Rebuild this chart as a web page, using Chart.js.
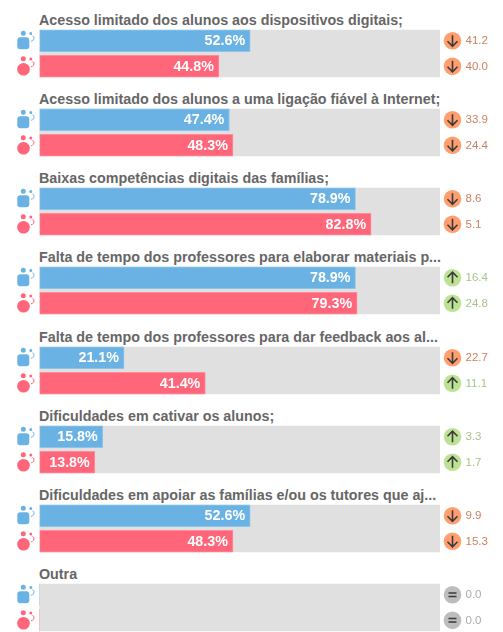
<!DOCTYPE html>
<html lang="pt">

<head>
    <meta charset="UTF-8">
    <title>Dificuldades</title>
    <script src="https://cdn.jsdelivr.net/npm/chart.js"></script>
    <style>
        html, body { margin: 0; background: #fff; }
        #wrap { position: relative; width: 503px; height: 632px; overflow: hidden; }
        .title { position: absolute; left: 39px; font: bold 14.3px "Liberation Sans", Arial, sans-serif; color: #666; white-space: nowrap; line-height: 16px; }
        canvas { position: absolute; left: 0; }
    </style>
</head>

<body>
    <div id="wrap"></div>

    <script>
        const groups = [
            'Acesso limitado dos alunos aos dispositivos digitais;',
            'Acesso limitado dos alunos a uma ligação fiável à Internet;',
            'Baixas competências digitais das famílias;',
            'Falta de tempo dos professores para elaborar materiais p...',
            'Falta de tempo dos professores para dar feedback aos al...',
            'Dificuldades em cativar os alunos;',
            'Dificuldades em apoiar as famílias e/ou os tutores que aj...',
            'Outra'
        ];
        const seriesNames = ['Rapazes', 'Raparigas'];
        const firstValues = [52.6, 47.4, 78.9, 78.9, 21.1, 15.8, 52.6, 0];
        const secondValues = [44.8, 48.3, 82.8, 79.3, 41.4, 13.8, 48.3, 0];
        const firstChange = [-41.2, -33.9, -8.6, 16.4, -22.7, 3.3, -9.9, 0];
        const secondChange = [-40.0, -24.4, -5.1, 24.8, 11.1, 1.7, -15.3, 0];
        const scaleMax = 100;

        const wrap = document.getElementById('wrap');
        const barColors = ['#6ab2e4', '#ff667a'];
        const edgeColors = ['#8cc4ea', '#ff8a99'];

        // little people icons to the left of each bar
        function drawIcon(c, i, cy) {
            const col = barColors[i];
            c.fillStyle = col;
            c.strokeStyle = col;
            c.beginPath();
            c.arc(23.3, cy - 7.5, 2.5, 0, Math.PI * 2);
            c.arc(30.8, cy - 7.3, 1.5, 0, Math.PI * 2);
            c.fill();
            c.beginPath();
            if (i === 0) {
                c.roundRect(17.3, cy - 3.5, 12, 12, 3);
            } else {
                c.arc(23.5, cy + 3, 6.3, 0, Math.PI * 2);
            }
            c.fill();
            c.lineWidth = 1;
            c.beginPath();
            c.arc(31, cy - 2.5, 3, -Math.PI / 3, Math.PI / 2);
            c.stroke();
        }

        // circle with arrow / equal sign and the number beside it
        function drawChange(c, v, cy) {
            const x = 452.5;
            const fill = v < 0 ? '#ff9f70' : v > 0 ? '#bde295' : '#bdbdbd';
            const txt = v < 0 ? '#c9825f' : v > 0 ? '#a7c48c' : '#aaaaaa';
            c.fillStyle = fill;
            c.beginPath();
            c.arc(x, cy, 8.8, 0, Math.PI * 2);
            c.fill();
            c.strokeStyle = '#3a3a3a';
            c.lineWidth = 1.6;
            c.beginPath();
            if (v === 0) {
                c.moveTo(x - 4, cy - 1.8);
                c.lineTo(x + 4, cy - 1.8);
                c.moveTo(x - 4, cy + 1.8);
                c.lineTo(x + 4, cy + 1.8);
            } else {
                const d = v < 0 ? 1 : -1;
                c.moveTo(x, cy - 5.5 * d);
                c.lineTo(x, cy + 5.5 * d);
                c.moveTo(x - 5, cy + 0.5 * d);
                c.lineTo(x, cy + 5.5 * d);
                c.lineTo(x + 5, cy + 0.5 * d);
            }
            c.stroke();
            c.fillStyle = txt;
            c.font = '11.5px "Liberation Sans", Arial, sans-serif';
            c.textAlign = 'left';
            c.textBaseline = 'middle';
            c.fillText(Math.abs(v).toFixed(1), x + 13, cy + 0.5);
        }

        const extras = {
            id: 'extras',
            // grey track runs unbroken behind both bars of a group
            beforeDatasetsDraw(chart) {
                const c = chart.ctx;
                const bars = chart.getDatasetMeta(0).data;
                const left = chart.scales.x.getPixelForValue(0);
                const right = chart.scales.x.getPixelForValue(scaleMax);
                const t = bars[0].y - 11;
                const b = bars[1].y + 11;
                c.save();
                c.fillStyle = '#e0e0e0';
                c.fillRect(left, t, right - left, b - t);
                c.restore();
            },
            afterDatasetsDraw(chart) {
                const c = chart.ctx;
                const g = chart.options.plugins.extras.group;
                const meta = chart.getDatasetMeta(0);
                const changes = [firstChange[g], secondChange[g]];
                c.save();
                meta.data.forEach((bar, i) => {
                    const v = chart.data.datasets[0].data[i];
                    drawIcon(c, i, bar.y);
                    drawChange(c, changes[i], bar.y);
                    if (v > 0) {
                        c.fillStyle = '#fff';
                        c.font = 'bold 14.3px "Liberation Sans", Arial, sans-serif';
                        c.textAlign = 'right';
                        c.textBaseline = 'middle';
                        c.fillText(v.toFixed(1) + '%', bar.x - 5, bar.y + 0.5);
                    }
                });
                c.restore();
            }
        };

        groups.forEach((name, g) => {
            const top = 28.25 + 79.07 * g;

            const title = document.createElement('div');
            title.className = 'title';
            title.textContent = name;
            title.style.top = Math.round(top - 16) + 'px';
            wrap.appendChild(title);

            const canvas = document.createElement('canvas');
            canvas.style.top = Math.round(top) + 'px';
            canvas.style.width = '503px';
            canvas.style.height = '51px';
            wrap.appendChild(canvas);

            new Chart(canvas, {
                type: 'bar',
                data: {
                    labels: seriesNames,
                    datasets: [{
                        data: [firstValues[g], secondValues[g]],
                        backgroundColor: barColors,
                        borderColor: edgeColors,
                        borderWidth: ctx => ctx.raw > 0 ? 1 : 0,
                        borderSkipped: false,
                        barThickness: 22
                    }]
                },
                options: {
                    indexAxis: 'y',
                    responsive: false,
                    animation: false,
                    layout: { padding: { left: 39.5, right: 63, top: 0, bottom: 0 } },
                    scales: {
                        x: { display: false, min: 0, max: scaleMax },
                        y: { display: false }
                    },
                    plugins: {
                        legend: { display: false },
                        tooltip: { enabled: false },
                        extras: { group: g }
                    }
                },
                plugins: [extras]
            });
        });
    </script>
</body>

</html>
